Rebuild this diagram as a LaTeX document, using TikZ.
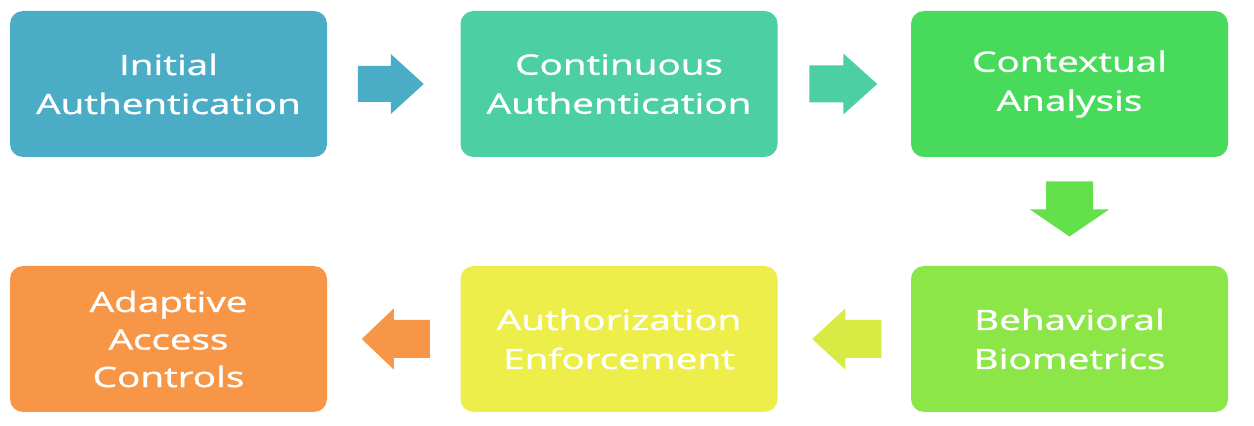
\documentclass[tikz,border=0pt]{standalone}
\usepackage{fontspec}
\newfontfamily\boxfont[FakeStretch=1.38,FakeBold=1.2]{Open Sans}
\usetikzlibrary{calc}
\definecolor{c1}{HTML}{4BACC6}
\definecolor{c2}{HTML}{4BCFA3}
\definecolor{c3}{HTML}{48DB5B}
\definecolor{c34}{HTML}{64E04B}
\definecolor{c4}{HTML}{8CE648}
\definecolor{c45}{HTML}{D7EB44}
\definecolor{c5}{HTML}{EEEE4A}
\definecolor{c6}{HTML}{F79646}
\begin{document}
\begin{tikzpicture}[x=1pt,y=1pt,
  box/.style={rectangle, rounded corners=13pt, minimum width=317pt, minimum height=146pt,
    inner sep=0pt, align=center, text=white, font=\boxfont\fontsize{28}{39}\selectfont}]
\useasboundingbox (0,0) rectangle (1254,426);
\node[box, fill=c1] (b1) at (168.5,342) {Initial\\Authentication};
\node[box, fill=c2] (b2) at (619,342) {Continuous\\Authentication};
\node[box, fill=c3] (b3) at (1069.5,342) {Contextual\\Analysis};
\node[box, fill=c4] (b4) at (1069.5,87) {Behavioral\\Biometrics};
\node[box, fill=c5] (b5) at (619,87) {Authorization\\Enforcement};
\node[box, fill=c6, font=\boxfont\fontsize{28}{37.5}\selectfont] (b6) at (168.5,87) {Adaptive\\Access\\Controls};
% right arrows
\coordinate (a1) at ($(b1.east)!0.5!(b2.west)$);
\coordinate (a2) at ($(b2.east)!0.5!(b3.west)$);
\fill[c1] ($(a1)+(-36,18)$) -- ++(33,0) -- ++(0,12) -- ++(33,-30) -- ++(-33,-30) -- ++(0,12) -- ++(-33,0) -- cycle;
\fill[c2] ($(a2)+(-35,18.5)$) -- ++(34,0) -- ++(0,12) -- ++(34,-30.5) -- ++(-34,-30.5) -- ++(0,12) -- ++(-34,0) -- cycle;
% down arrow
\coordinate (a3) at ($(b3.south)!0.5!(b4.north)$);
\fill[c34] ($(a3)+(-23.5,30)$) -- ++(0,-28) -- ++(-16,0) -- ++(39.5,-27) -- ++(39.5,27) -- ++(-16,0) -- ++(0,28) -- cycle;
% left arrows
\coordinate (a4) at ($(b4.west)!0.5!(b5.east)$);
\coordinate (a5) at ($(b5.west)!0.5!(b6.east)$);
\fill[c45] ($(a4)+(37,19)$) -- ++(-36,0) -- ++(0,11.5) -- ++(-33,-30.5) -- ++(33,-30.5) -- ++(0,11.5) -- ++(36,0) -- cycle;
\fill[c6] ($(a5)+(36,19)$) -- ++(-36,0) -- ++(0,11.5) -- ++(-32,-30.5) -- ++(32,-30.5) -- ++(0,11.5) -- ++(36,0) -- cycle;
\end{tikzpicture}
\end{document}
